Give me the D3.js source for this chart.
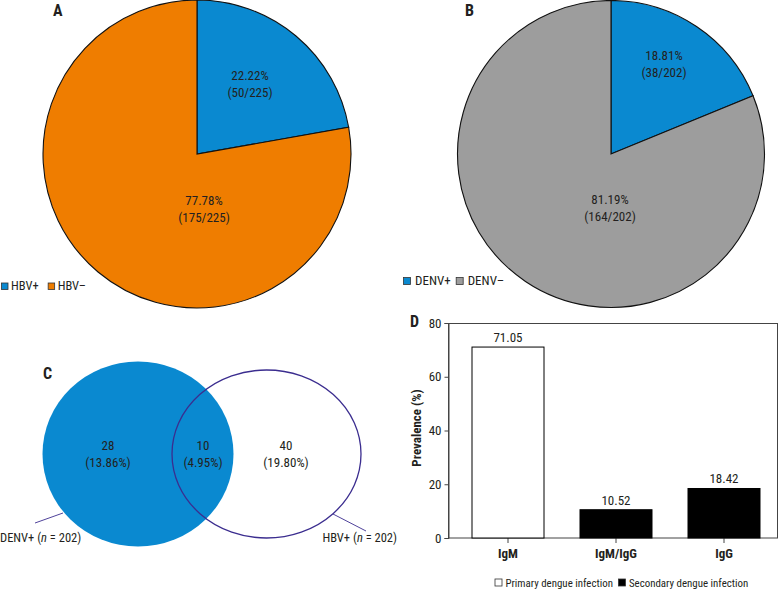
<!DOCTYPE html>
<html><head><meta charset="utf-8">
<script src="https://cdn.jsdelivr.net/npm/d3@7"></script>
<style>
body{margin:0;background:#fff;}
svg text{font-family:"Roboto Condensed","Roboto",sans-serif;fill:#231f20;}
</style></head>
<body>
<svg id="c" width="779" height="589"></svg>
<script>
// ---- data ----
const pieALabels = ["HBV+", "HBV\u2013"];
const pieAValues = [50, 175];
const pieBLabels = ["DENV+", "DENV\u2013"];
const pieBValues = [38, 164];
const vennLabels = ["DENV+", "HBV+"];
const vennSetN = [202, 202];
const vennCounts = [28, 10, 40];      // DENV only, both, HBV only
const vennTotal = 202;
const barCategories = ["IgM", "IgM/IgG", "IgG"];
const barValues = [71.05, 10.52, 18.42];
const barTypes = ["Primary dengue infection", "Secondary dengue infection", "Secondary dengue infection"];
const legendTypes = ["Primary dengue infection", "Secondary dengue infection"];
const yTicks = [0, 20, 40, 60, 80];

const BLUE = "#0a89d0", ORANGE = "#ef7d00", GRAY = "#9d9d9d", NAVY = "#3b2d8f";
const FS = 13;
const svg = d3.select("#c");

function drawPie(cx, cy, r, values, colors, labelPos) {
  const total = d3.sum(values);
  const g = svg.append("g").attr("transform", `translate(${cx},${cy})`);
  const pie = d3.pie().sort(null).value(d => d)(values);
  const arc = d3.arc().innerRadius(0).outerRadius(r);
  g.selectAll("path").data(pie).join("path")
    .attr("d", arc).attr("fill", (d, i) => colors[i])
    .attr("stroke", "#111").attr("stroke-width", 1.1);
  pie.forEach((d, i) => {
    const [lx, ly] = labelPos[i];
    const t = g.append("text").attr("text-anchor", "middle").attr("font-size", FS);
    t.append("tspan").attr("x", lx).attr("y", ly).text((values[i] / total * 100).toFixed(2) + "%");
    t.append("tspan").attr("x", lx).attr("y", ly + 16.5).text(`(${values[i]}/${total})`);
  });
}

drawPie(197, 154, 154, pieAValues, [BLUE, ORANGE], [[53, -74], [7, 51]]);
drawPie(611, 154, 153.5, pieBValues, [BLUE, GRAY], [[53, -94], [-1, 50]]);

// legends: square, gap, text, gap
function legend(x, y, labels, fills, size, textGap, itemGap, fs) {
  let cx = x;
  labels.forEach((l, i) => {
    svg.append("rect").attr("x", cx + 0.5).attr("y", y - size - 0.5).attr("width", size).attr("height", size)
      .attr("fill", fills[i]).attr("stroke", "#333").attr("stroke-width", 0.8);
    const t = svg.append("text").attr("x", cx + size + textGap).attr("y", y).attr("font-size", fs).text(l);
    cx += size + textGap + t.node().getComputedTextLength() + itemGap;
  });
}
legend(1, 290, pieALabels, [BLUE, ORANGE], 6.5, 3.5, 9, 12.5);
legend(403, 285, pieBLabels, [BLUE, GRAY], 7, 5, 5, FS);

// panel letters
[["A", 53, 16], ["B", 465, 16], ["C", 43, 379], ["D", 410, 327]].forEach(([l, x, y]) => {
  svg.append("text").attr("x", x).attr("y", y).attr("font-size", 16).attr("font-weight", "bold").text(l);
});

// ---- Venn ----
const venn = svg.append("g");
venn.append("ellipse").attr("cx", 138).attr("cy", 454).attr("rx", 95.5).attr("ry", 92.5).attr("fill", BLUE);
venn.append("ellipse").attr("cx", 266.5).attr("cy", 454).attr("rx", 94.5).attr("ry", 84)
  .attr("fill", "none").attr("stroke", NAVY).attr("stroke-width", 1.3);
const vennX = [108, 203, 286];
vennCounts.forEach((c, i) => {
  const t = venn.append("text").attr("text-anchor", "middle").attr("font-size", FS);
  t.append("tspan").attr("x", vennX[i]).attr("y", 450).text(c);
  t.append("tspan").attr("x", vennX[i]).attr("y", 467).text(`(${(c / vennTotal * 100).toFixed(2)}%)`);
});
venn.append("line").attr("x1", 35).attr("y1", 523).attr("x2", 63).attr("y2", 513).attr("stroke", NAVY).attr("stroke-width", 0.9);
venn.append("line").attr("x1", 333).attr("y1", 514).attr("x2", 366).attr("y2", 531).attr("stroke", NAVY).attr("stroke-width", 0.9);
[[0, "start", 0], [397, "end", 1]].forEach(([x, anchor, i]) => {
  const t = venn.append("text").attr("x", x).attr("y", 542).attr("text-anchor", anchor).attr("font-size", 12.5);
  t.append("tspan").text(vennLabels[i] + " (");
  t.append("tspan").attr("font-style", "italic").text("n");
  t.append("tspan").text(" = " + vennSetN[i] + ")");
});

// ---- Bar chart ----
const x = d3.scaleBand().domain(barCategories).range([454, 778]).paddingInner(1 / 3).paddingOuter(1 / 6);
const y = d3.scaleLinear().domain([0, 80]).range([538, 323]);
const bar = svg.append("g");
bar.append("rect").attr("x", 448.5).attr("y", 323.5).attr("width", 329).attr("height", 214.5)
  .attr("fill", "none").attr("stroke", "#444").attr("stroke-width", 1);
const yAxis = bar.append("g").attr("transform", "translate(448.5,0)")
  .call(d3.axisLeft(y).tickValues(yTicks).tickSize(4).tickPadding(3));
const xAxis = bar.append("g").attr("transform", "translate(0,538)")
  .call(d3.axisBottom(x).tickSize(5).tickPadding(4));
[yAxis, xAxis].forEach(a => {
  a.select(".domain").attr("stroke", "#444");
  a.selectAll(".tick line").attr("stroke", "#444");
  a.selectAll("text").attr("font-size", FS).attr("fill", "#231f20")
    .style("font-family", "'Roboto Condensed',sans-serif");
});
xAxis.select(".domain").remove();
xAxis.selectAll("text").attr("font-weight", "bold").attr("dy", "0.85em");
bar.selectAll("rect.bar").data(barCategories).join("rect").attr("class", "bar")
  .attr("x", d => x(d)).attr("width", x.bandwidth())
  .attr("y", (d, i) => y(barValues[i])).attr("height", (d, i) => y(0) - y(barValues[i]))
  .attr("fill", (d, i) => barTypes[i] === legendTypes[0] ? "#fff" : "#000")
  .attr("stroke", "#000").attr("stroke-width", 1);
bar.selectAll("text.val").data(barCategories).join("text").attr("class", "val")
  .attr("x", d => x(d) + x.bandwidth() / 2).attr("y", (d, i) => y(barValues[i]) - 5)
  .attr("text-anchor", "middle").attr("font-size", FS).text((d, i) => barValues[i].toFixed(2));
bar.append("text").attr("transform", "translate(421,428) rotate(-90)").attr("text-anchor", "middle")
  .attr("font-size", FS).attr("font-weight", "bold").text("Prevalence (%)");
legend(494.5, 586.5, legendTypes, ["#fff", "#000"], 7, 4, 5, 10.9);
</script>
</body></html>
